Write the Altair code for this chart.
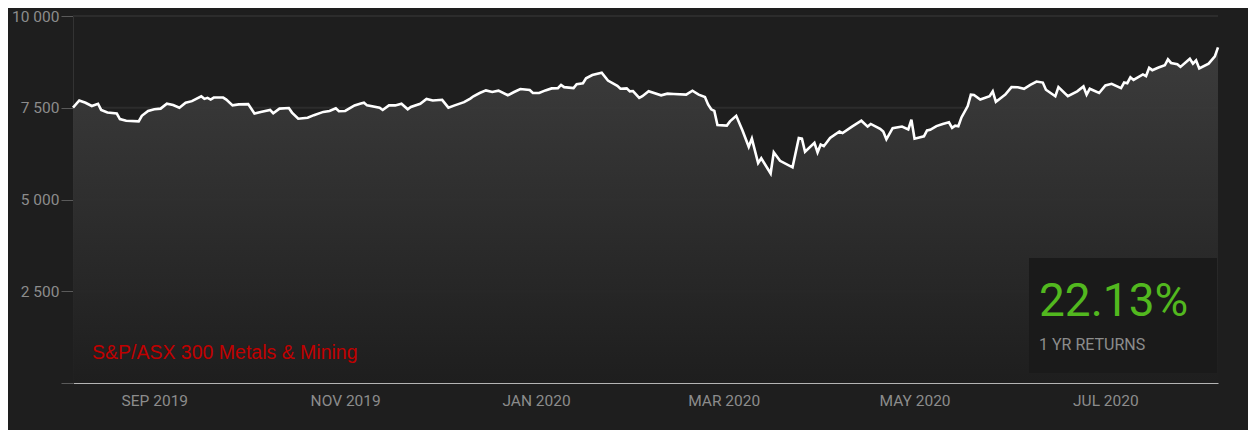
import altair as alt
import pandas as pd

dates = [
    "2019-08-06", "2019-08-08", "2019-08-10", "2019-08-12", "2019-08-14", "2019-08-15", "2019-08-17",
    "2019-08-20", "2019-08-21", "2019-08-23", "2019-08-27", "2019-08-28", "2019-08-30", "2019-09-01",
    "2019-09-03", "2019-09-05", "2019-09-07", "2019-09-09", "2019-09-11", "2019-09-13", "2019-09-16",
    "2019-09-17", "2019-09-18", "2019-09-19", "2019-09-20", "2019-09-23", "2019-09-24", "2019-09-26",
    "2019-09-28", "2019-10-01", "2019-10-03", "2019-10-05", "2019-10-08", "2019-10-09", "2019-10-11",
    "2019-10-14", "2019-10-15", "2019-10-17", "2019-10-20", "2019-10-22", "2019-10-25", "2019-10-27",
    "2019-10-29", "2019-10-30", "2019-11-01", "2019-11-04", "2019-11-06", "2019-11-07", "2019-11-08",
    "2019-11-12", "2019-11-13", "2019-11-15", "2019-11-17", "2019-11-19", "2019-11-21", "2019-11-22",
    "2019-11-25", "2019-11-27", "2019-11-29", "2019-12-02", "2019-12-04", "2019-12-06", "2019-12-09",
    "2019-12-11", "2019-12-12", "2019-12-14", "2019-12-16", "2019-12-18", "2019-12-20", "2019-12-23",
    "2019-12-25", "2019-12-27", "2019-12-30", "2019-12-31", "2020-01-02", "2020-01-04", "2020-01-06",
    "2020-01-08", "2020-01-09", "2020-01-10", "2020-01-13", "2020-01-14", "2020-01-16", "2020-01-17",
    "2020-01-19", "2020-01-22", "2020-01-24", "2020-01-27", "2020-01-28", "2020-01-30", "2020-01-31",
    "2020-02-01", "2020-02-03", "2020-02-04", "2020-02-06", "2020-02-10", "2020-02-12", "2020-02-14",
    "2020-02-18", "2020-02-20", "2020-02-22", "2020-02-24", "2020-02-25", "2020-02-26", "2020-02-27",
    "2020-02-28", "2020-03-02", "2020-03-03", "2020-03-05", "2020-03-07", "2020-03-09", "2020-03-10",
    "2020-03-12", "2020-03-13", "2020-03-16", "2020-03-17", "2020-03-19", "2020-03-23", "2020-03-25",
    "2020-03-26", "2020-03-27", "2020-03-30", "2020-03-31", "2020-04-01", "2020-04-02", "2020-04-04",
    "2020-04-07", "2020-04-08", "2020-04-11", "2020-04-14", "2020-04-16", "2020-04-17", "2020-04-20",
    "2020-04-21", "2020-04-22", "2020-04-24", "2020-04-27", "2020-04-29", "2020-04-30", "2020-05-01",
    "2020-05-04", "2020-05-05", "2020-05-06", "2020-05-08", "2020-05-10", "2020-05-12", "2020-05-13",
    "2020-05-14", "2020-05-15", "2020-05-16", "2020-05-18", "2020-05-19", "2020-05-20", "2020-05-22",
    "2020-05-25", "2020-05-26", "2020-05-27", "2020-05-29", "2020-05-30", "2020-06-01", "2020-06-03",
    "2020-06-05", "2020-06-07", "2020-06-09", "2020-06-11", "2020-06-12", "2020-06-15", "2020-06-16",
    "2020-06-19", "2020-06-22", "2020-06-24", "2020-06-25", "2020-06-26", "2020-06-29", "2020-07-01",
    "2020-07-03", "2020-07-06", "2020-07-07", "2020-07-08", "2020-07-09", "2020-07-10", "2020-07-13",
    "2020-07-14", "2020-07-15", "2020-07-16", "2020-07-18", "2020-07-20", "2020-07-21", "2020-07-22",
    "2020-07-24", "2020-07-25", "2020-07-28", "2020-07-29", "2020-07-30", "2020-07-31", "2020-08-03",
    "2020-08-05", "2020-08-06",
]

values = [
    7501, 7698, 7636, 7547, 7609, 7440, 7369,
    7342, 7191, 7147, 7129, 7280, 7413, 7458,
    7476, 7609, 7573, 7502, 7636, 7680, 7813,
    7742, 7769, 7724, 7778, 7778, 7724, 7564,
    7591, 7600, 7342, 7387, 7440, 7351, 7476,
    7493, 7369, 7200, 7227, 7298, 7387, 7413,
    7485, 7405, 7413, 7564, 7618, 7636, 7564,
    7502, 7440, 7564, 7564, 7609, 7458, 7520,
    7609, 7742, 7698, 7716, 7502, 7564, 7653,
    7751, 7813, 7902, 7973, 7929, 7965, 7840,
    7929, 8009, 7982, 7902, 7902, 7973, 8027,
    8035, 8124, 8062, 8035, 8142, 8169, 8302,
    8391, 8453, 8240, 8097, 8017, 8027, 7947,
    7955, 7769, 7813, 7950, 7840, 7885, 7876,
    7858, 7965, 7858, 7795, 7591, 7458, 7413,
    7031, 7013, 7129, 7280, 6880, 6435, 6658,
    5991, 6125, 5707, 6285, 6053, 5875, 6675,
    6658, 6302, 6542, 6285, 6498, 6453, 6675,
    6853, 6809, 6987, 7147, 6987, 7058, 6925,
    6853, 6640, 6942, 6987, 6907, 7173, 6658,
    6720, 6880, 6898, 7000, 7058, 7102, 6951,
    7013, 6996, 7236, 7547, 7858, 7849, 7724,
    7813, 7947, 7662, 7795, 7858, 8062, 8060,
    8017, 8124, 8213, 8186, 7991, 7813, 8062,
    7813, 7947, 8080, 7858, 8017, 7902, 8107,
    8151, 8035, 8186, 8169, 8329, 8258, 8409,
    8364, 8587, 8524, 8595, 8658, 8818, 8720,
    8684, 8613, 8836, 8702, 8791, 8569, 8702,
    8898, 9147,
]

y_ticks = [0, 2500, 5000, 7500, 10000]
x_label_dates = [(2019, 9), (2019, 11), (2020, 1), (2020, 3), (2020, 5), (2020, 7)]
x_start = (2019, 8, 6)
x_end = (2020, 8, 6)
series_name = ["S&P/ASX 300 Metals & Mining"]
return_value = ["22.13%"]
return_caption = ["1 YR RETURNS"]

df = pd.DataFrame({"date": dates, "value": values})
grid_df = pd.DataFrame({"value": y_ticks[1:]})

x_scale = alt.Scale(
    domain=[
        alt.DateTime(year=x_start[0], month=x_start[1], date=x_start[2], utc=True),
        alt.DateTime(year=x_end[0], month=x_end[1], date=x_end[2], utc=True),
    ],
    nice=False,
)
y_scale = alt.Scale(domain=[0, 10000], nice=False)

x_axis = alt.Axis(
    values=[alt.DateTime(year=y, month=m, date=1, utc=True) for y, m in x_label_dates],
    labelExpr="upper(utcFormat(datum.value, '%b %Y'))",
    ticks=False,
    grid=False,
    domainColor="#b4b4b4",
    domainWidth=1,
    labelColor="#8c8c8c",
    labelFont="Roboto",
    labelFontSize=15.5,
    labelPadding=10,
    title=None,
)
y_axis = alt.Axis(
    values=y_ticks,
    labelExpr="datum.value == 0 ? '' : replace(format(datum.value, ','), ',', ' ')",
    grid=False,
    tickSize=12,
    tickColor="#5a5a5a",
    domainColor="#333333",
    labelColor="#8c8c8c",
    labelFont="Roboto",
    labelFontSize=15.5,
    labelPadding=2,
    title=None,
)

base = alt.Chart(df)

grid = alt.Chart(grid_df).mark_rule(color="#2c2c2c", strokeWidth=2).encode(
    y=alt.Y("value:Q", scale=y_scale, axis=y_axis)
)

area = base.mark_area(
    opacity=0.93,
    color=alt.Gradient(
        gradient="linear",
        stops=[
            alt.GradientStop(color="#3e3e3e", offset=0),
            alt.GradientStop(color="#1e1e1e", offset=1),
        ],
        x1=1, x2=1, y1=0, y2=1,
    ),
).encode(
    x=alt.X("date:T", scale=x_scale, axis=x_axis),
    y=alt.Y("value:Q", scale=y_scale, axis=y_axis),
)

line = base.mark_line(color="#ffffff", strokeWidth=2.6).encode(
    x=alt.X("date:T", scale=x_scale, axis=x_axis),
    y=alt.Y("value:Q", scale=y_scale, axis=y_axis),
)

box = alt.Chart(pd.DataFrame({"t": return_value})).mark_rect(color="#1a1a1a").encode(
    x=alt.value(956), x2=alt.value(1144), y=alt.value(242), y2=alt.value(357)
)

ret_text = alt.Chart(pd.DataFrame({"t": return_value})).mark_text(
    align="left", baseline="alphabetic", font="Roboto", fontSize=46, color="#52b81f"
).encode(x=alt.value(966), y=alt.value(299.5), text="t:N")

cap_text = alt.Chart(pd.DataFrame({"t": return_caption})).mark_text(
    align="left", baseline="alphabetic", font="Roboto", fontSize=16, color="#8c8c8c"
).encode(x=alt.value(966), y=alt.value(334), text="t:N")

name_text = alt.Chart(pd.DataFrame({"t": series_name})).mark_text(
    align="left", baseline="alphabetic", font="Liberation Sans", fontSize=19.5, color="#c00000"
).encode(x=alt.value(19), y=alt.value(343), text="t:N")

chart = (
    alt.layer(grid, area, line, box, ret_text, cap_text, name_text)
    .resolve_scale(y="shared", x="shared")
    .properties(
        width=1145,
        height=367,
        padding={"left": 65, "top": 8, "right": 30, "bottom": 47},
        autosize=alt.AutoSizeParams(type="none"),
        background="#1e1e1e",
    )
    .configure_view(stroke=None)
)

chart.save("out.html", embed_options={"renderer": "svg", "actions": False})
